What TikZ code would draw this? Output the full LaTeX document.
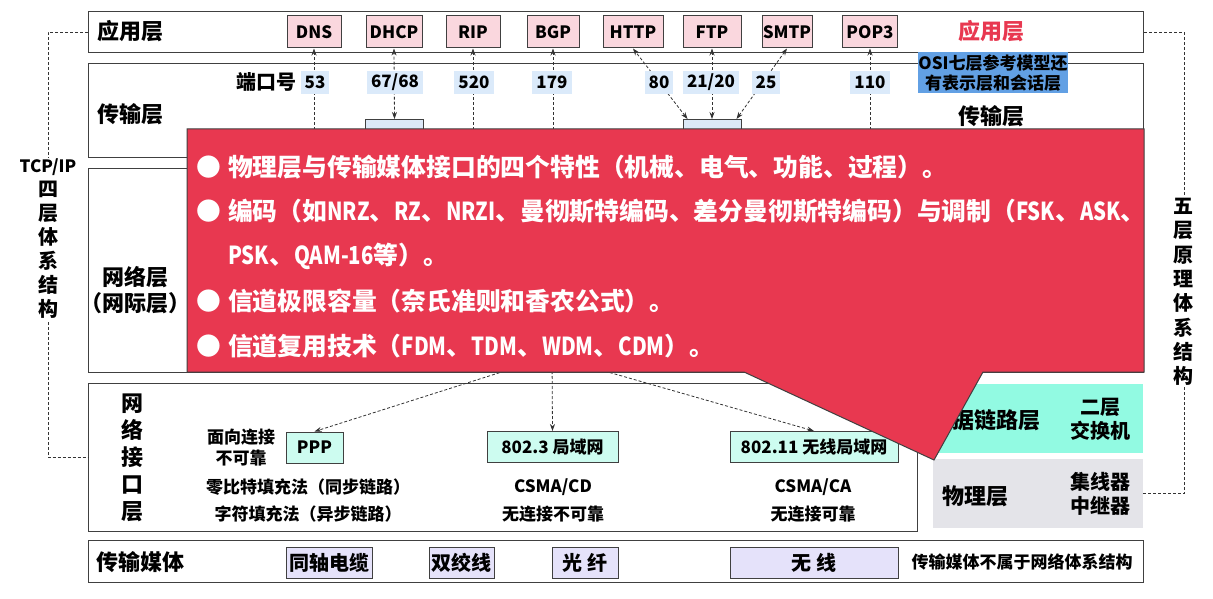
\documentclass[tikz,border=0pt]{standalone}
\usepackage{fontspec}
\setmainfont{Noto Sans CJK SC}
\newfontfamily\narrowlatin{Noto Sans CJK SC}[FakeStretch=0.82]
\usepackage{xcolor}
\usepackage{tikz}
\usetikzlibrary{arrows.meta}

\definecolor{edgegray}{RGB}{64,64,64}
\definecolor{protopink}{RGB}{250,215,222}
\definecolor{portblue}{RGB}{219,234,250}
\definecolor{udpblue}{RGB}{220,232,247}
\definecolor{calloutred}{RGB}{232,56,80}
\definecolor{osiblue}{RGB}{98,160,228}
\definecolor{linkteal}{RGB}{146,250,226}
\definecolor{boxteal}{RGB}{205,252,240}
\definecolor{physgray}{RGB}{228,228,233}
\definecolor{medialilac}{RGB}{229,226,250}

\newcommand\fsz[2]{\fontsize{#1}{#2}\selectfont\bfseries}
\newcommand\latn[1]{{\narrowlatin\bfseries #1}}

\begin{document}
\begin{tikzpicture}[x=1pt,y=-1pt,>={Stealth[length=7pt,width=5pt]},
  layerbox/.style={draw=edgegray,line width=1.2pt,fill=white,anchor=north west,inner sep=0pt},
  protobox/.style={draw=edgegray,line width=1pt,fill=protopink,minimum height=32pt,inner sep=0pt,font=\fsz{17}{19}},
  portbox/.style={fill=portblue,minimum height=23pt,inner xsep=4pt,inner ysep=0pt,font=\fsz{17}{20}},
  carrier/.style={draw=edgegray,line width=1pt,fill=udpblue,minimum width=58pt,minimum height=22pt,anchor=north},
  linkbox/.style={draw=edgegray,line width=1pt,fill=boxteal,minimum height=31pt,inner sep=0pt,font=\fsz{17}{20}},
  mediabox/.style={draw=edgegray,line width=1pt,fill=medialilac,minimum height=31pt,inner sep=0pt,font=\fsz{20}{22}},
  dline/.style={densely dashed,line width=0.8pt,black!80},
  lbl/.style={font=\fsz{22}{26}},
  note/.style={font=\fsz{17}{21}},
  cotext/.style={anchor=west,text=white,font=\fsz{24.8}{28},inner sep=0pt}]
\useasboundingbox (0,0) rectangle (1213,599);

% layer frames
\node[layerbox,minimum width=1055pt,minimum height=41pt] (applayer) at (88,11) {};
\node[layerbox,minimum width=1055pt,minimum height=94pt] (translayer) at (88,63) {};
\node[layerbox,minimum width=1055pt,minimum height=204pt] (netlayer) at (88,168) {};
\node[layerbox,minimum width=829pt,minimum height=148pt] (nilayer) at (88,383) {};
\node[layerbox,minimum width=1055pt,minimum height=42pt] (medialayer) at (88,540) {};
\node[fill=linkteal,anchor=north west,minimum width=210pt,minimum height=69pt,inner sep=0pt] (dlbox) at (933,384) {};
\node[fill=physgray,anchor=north west,minimum width=210pt,minimum height=69pt,inner sep=0pt] (phbox) at (933,459) {};

\node[lbl] (applbl) at (130,31) {应用层};
\node[lbl] (translbl) at (130,114) {传输层};
\node[lbl,align=center] (netlbl) at (135,290) {网络层\\（网际层）};
\node[lbl,align=center,font=\fsz{22}{27}] (nilbl) at (132,458) {网\\络\\接\\口\\层};
\node[lbl] (medialbl) at (140,562) {传输媒体};

% application protocols
\node[protobox,minimum width=54pt] (dns) at (314,32) {DNS};
\node[protobox,minimum width=56pt] (dhcp) at (394,32) {DHCP};
\node[protobox,minimum width=54pt] (rip) at (473,32) {RIP};
\node[protobox,minimum width=52pt] (bgp) at (553,32) {BGP};
\node[protobox,minimum width=60pt] (http) at (633,32) {HTTP};
\node[protobox,minimum width=58pt] (ftp) at (712,32) {FTP};
\node[protobox,minimum width=50pt] (smtp) at (787,32) {SMTP};
\node[protobox,minimum width=55pt] (pop3) at (870,32) {POP3};
\node[lbl,text=calloutred] (appred) at (991,31) {应用层};
\node[lbl] (transred) at (991,116) {传输层};

\node[carrier] (udp) at (394.5,119) {};
\node[carrier] (tcp) at (712,119) {};
\coordinate (dnsfoot) at (314,145);
\coordinate (ripfoot) at (473,145);
\coordinate (bgpfoot) at (553,145);
\coordinate (pop3foot) at (870,145);

\draw[dline,->] (dnsfoot) -- (dns.south);
\draw[dline,<->] (udp.north) -- (dhcp.south);
\draw[dline,->] (ripfoot) -- (rip.south);
\draw[dline,->] (bgpfoot) -- (bgp.south);
\draw[dline,<->] ([xshift=5pt]tcp.north west) -- (http.south);
\draw[dline,<->] (tcp.north) -- (ftp.south);
\draw[dline,<->] ([xshift=-5pt]tcp.north east) -- (smtp.south);
\draw[dline,->] (pop3foot) -- (pop3.south);

% port numbers
\node[lbl,font=\fsz{20}{22}] (portword) at (266,82) {端口号};
\node[portbox] (p53) at (315,82.5) {53};
\node[portbox] (p67) at (395,82.5) {67/68};
\node[portbox] (p520) at (474,82.5) {520};
\node[portbox] (p179) at (552,82.5) {179};
\node[portbox] (p80) at (659,82.5) {80};
\node[portbox] (p21) at (711,82.5) {21/20};
\node[portbox] (p25) at (766,82.5) {25};
\node[portbox] (p110) at (870,82.5) {110};
\node[fill=osiblue,align=center,font=\fsz{17}{20},minimum width=150pt,minimum height=41pt,inner sep=0pt] (osinote) at (993,72.5) {OSI七层参考模型还\\有表示层和会话层};

% network interface layer
\node[linkbox,minimum width=57pt] (ppp) at (314.5,447.5) {PPP};
\node[linkbox,minimum width=131pt] (lan) at (552.5,447) {802.3 局域网};
\node[linkbox,minimum width=168pt] (wlan) at (814,447) {802.11 无线局域网};
\node[note,align=center] (pppnote) at (241,448) {面向连接\\不可靠};
\node[note] (zbit) at (308,487) {零比特填充法（同步链路）};
\node[note] (cstuff) at (308,514) {字符填充法（异步链路）};
\node[note] (cd) at (553,487) {CSMA/CD};
\node[note] (cdnote) at (553,514) {无连接不可靠};
\node[note] (ca) at (813,487) {CSMA/CA};
\node[note] (canote) at (813,514) {无连接可靠};

\coordinate (ipfoot) at (552,356);
\draw[dline,->] (ipfoot) -- (ppp.north);
\draw[dline,->] (ipfoot) -- (lan.north);
\draw[dline,->] (ipfoot) -- (wlan.north);

% media
\node[mediabox,minimum width=86pt] (coax) at (329,562.5) {同轴电缆};
\node[mediabox,minimum width=65pt] (twisted) at (461.5,562.5) {双绞线};
\node[mediabox,minimum width=66pt] (fiber) at (585,562.5) {光\ 纤};
\node[mediabox,minimum width=168pt] (radio) at (814,562.5) {无\ 线};
\node[note] (medianote) at (1022,562) {传输媒体不属于网络体系结构};

\node[lbl] (dllbl) at (985,420) {数据链路层};
\node[lbl,align=center,font=\fsz{20}{24}] (l2sw) at (1100,419) {二层\\交换机};
\node[lbl] (phlbl) at (975,496) {物理层};
\node[lbl,align=center,font=\fsz{20}{24}] (hubrep) at (1100,494) {集线器\\中继器};

% callout
\draw[draw=edgegray,line width=1pt,fill=calloutred] (187,129) -- (1144,129) -- (1144,372) -- (983,372) -- (934,460) -- (744,372) -- (187,372) -- cycle;
\node[cotext] (pt1) at (196,167) {\makebox[32pt][l]{●}物理层与传输媒体接口的四个特性（机械、电气、功能、过程）。};
\node[cotext] (pt2) at (196,211) {\makebox[32pt][l]{●}编码（如\latn{NRZ}、\latn{RZ}、\latn{NRZI}、曼彻斯特编码、差分曼彻斯特编码）与调制（\latn{FSK}、\latn{ASK}、};
\node[cotext] (pt2b) at (228,256) {\latn{PSK}、\latn{QAM-16}等）。};
\node[cotext] (pt3) at (196,301) {\makebox[32pt][l]{●}信道极限容量（奈氏准则和香农公式）。};
\node[cotext] (pt4) at (196,346) {\makebox[32pt][l]{●}信道复用技术（\latn{FDM}、\latn{TDM}、\latn{WDM}、\latn{CDM}）。};

% brackets
\draw[dline] (applayer.west) -- ++(-40,0) |- (nilayer.west);
\node[fill=white,align=center,font=\fsz{20}{24},inner sep=1pt] (tcpip) at (48,239) {{\fsz{17}{24}TCP/IP}\\四\\层\\体\\系\\结\\构};
\draw[dline] (applayer.east) -- ++(40,0) |- (phbox.east);
\node[fill=white,align=center,font=\fsz{20}{24.3},inner sep=1pt] (fivelayer) at (1183,292) {五\\层\\原\\理\\体\\系\\结\\构};
\end{tikzpicture}
\end{document}
